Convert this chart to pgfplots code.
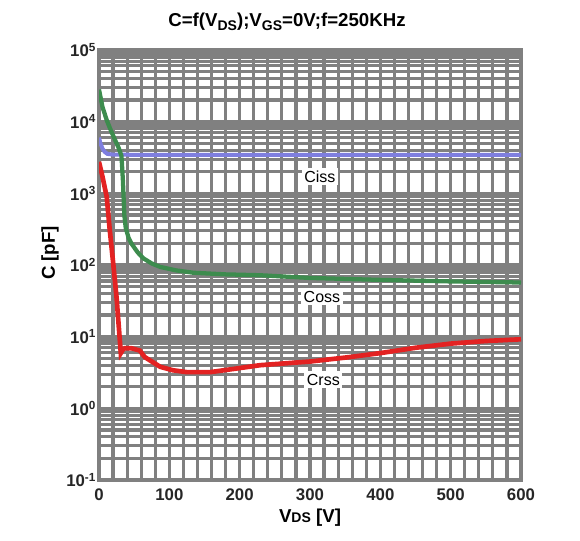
\documentclass[border=0pt]{standalone}
\usepackage{fontspec}
\setmainfont{Liberation Sans}
\usepackage{pgfplots}
\pgfplotsset{compat=1.18}
\definecolor{gridgray}{HTML}{808080}
\definecolor{cissc}{HTML}{7F7FDF}
\definecolor{cossc}{HTML}{3D8C4E}
\definecolor{crssc}{HTML}{E32222}
\begin{document}
\begin{tikzpicture}
\useasboundingbox (-74.25pt,-45pt) rectangle (360.75pt,360pt);
\begin{axis}[
  at={(0pt,0pt)}, anchor=south west,
  scale only axis, width=316.5pt, height=322.5pt,
  ymode=log, xmin=0, xmax=600, ymin=0.1, ymax=100000,
  xtick={0,100,...,600}, minor x tick num=4,
  ytick={0.1,1,10,100,1000,10000,100000},
  yticklabels={10\textsuperscript{-1},10\textsuperscript{0},10\textsuperscript{1},10\textsuperscript{2},10\textsuperscript{3},10\textsuperscript{4},10\textsuperscript{5}},
  grid=both,
  major grid style={gridgray, line width=2.4pt},
  minor grid style={gridgray, line width=2.4pt},
  axis line style={gridgray, line width=2.4pt},
  major tick length=0pt, minor tick length=0pt,
  tick style={draw=none},
  /pgf/number format/assume math mode=true,
  tick label style={font=\fontsize{12.6}{14}\selectfont\bfseries, text=black!85},
  x tick label style={yshift=-3pt},
  y tick label style={anchor=east, inner sep=1pt, xshift=-1pt},
  clip=true,
]
\addplot[cissc, line width=3pt] coordinates {
(0,6000) (2,5000) (5,4200) (8,3800) (12,3550) (20,3470) (50,3450) (100,3450)
(200,3450) (300,3450) (400,3450) (500,3450) (600,3450)};
\addplot[cossc, line width=3.2pt] coordinates {
(0,28000) (5,16000) (11,10500) (17,7500) (23,5500) (28,4300) (32,3300) (34,1500)
(36,500) (38,330) (42,240) (46,200) (55,150) (63,124) (75,105) (87,94) (110,84)
(134,78) (180,74) (229,72) (300,66) (400,62) (500,59) (600,57)};
\addplot[crssc, line width=3.5pt] coordinates {
(0,2750) (5,1700) (11,890) (15,330) (20,110) (25,35) (31,5.9) (34,6.6) (37,6.9)
(46,6.9) (58,6.4) (65,5.2) (72,4.7) (87,3.8) (105,3.4) (125,3.2) (158,3.2)
(196,3.6) (229,4.0) (300,4.5) (357,5.2) (400,5.9) (450,7.0) (500,8.0) (550,8.7)
(600,9.2)};
\node[fill=white, inner sep=2pt, font=\fontsize{12}{14}\selectfont] at (axis cs:314,1700) {Ciss};
\node[fill=white, inner sep=2pt, font=\fontsize{12}{14}\selectfont] at (axis cs:317,36) {Coss};
\node[fill=white, inner sep=2pt, font=\fontsize{12}{14}\selectfont] at (axis cs:319,2.5) {Crss};
\end{axis}
\node[anchor=base, font=\fontsize{14}{16}\selectfont\bfseries] at (141pt,339.75pt)
  {C=f(V\raisebox{-0.35ex}{\fontsize{10.5}{12}\selectfont DS});V\raisebox{-0.35ex}{\fontsize{10.5}{12}\selectfont GS}=0V;f=250KHz};
\node[anchor=base, font=\fontsize{14}{16}\selectfont\bfseries] at (158.25pt,-31.5pt)
  {V{\fontsize{10.5}{12}\selectfont DS} [V]};
\node[anchor=base, rotate=90, font=\fontsize{14}{16}\selectfont\bfseries] at (-33pt,170.25pt)
  {C [pF]};
\end{tikzpicture}
\end{document}
